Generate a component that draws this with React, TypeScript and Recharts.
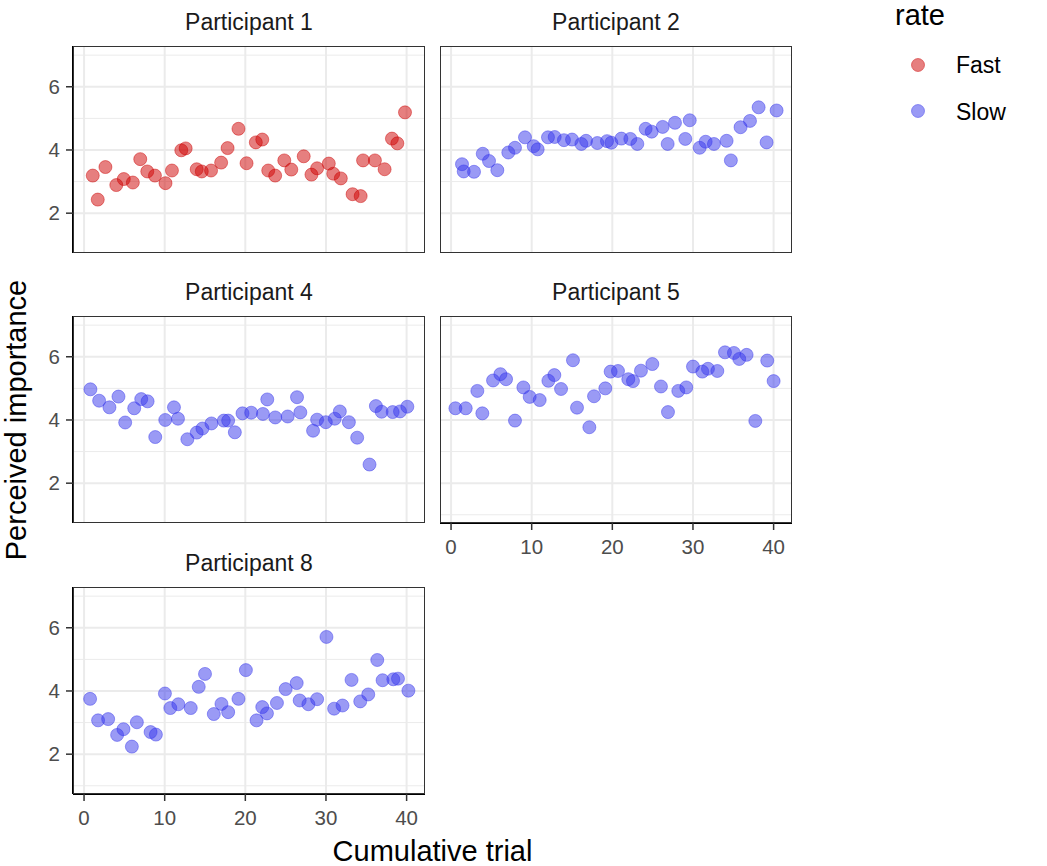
import React from 'react';
import { ScatterChart, Scatter, XAxis, YAxis, CartesianGrid } from 'recharts';

// ---- data ----
const p1Trial = [1.08,1.7,2.65,4.0,4.93,6.05,6.97,7.84,8.79,10.1,10.9,12.06,12.6,13.97,14.6,15.75,17.0,17.8,19.15,20.15,21.3,22.1,22.84,23.7,24.83,25.7,27.24,28.2,28.9,30.35,30.9,31.84,33.3,34.3,34.6,36.07,37.27,38.18,38.85,39.8];
const p1Importance = [3.19,2.43,3.46,2.89,3.08,2.97,3.71,3.32,3.19,2.95,3.35,3.99,4.05,3.39,3.32,3.35,3.6,4.06,4.67,3.58,4.24,4.33,3.35,3.19,3.67,3.38,3.8,3.22,3.42,3.57,3.25,3.1,2.6,2.54,3.67,3.67,3.39,4.36,4.21,5.19];

const p2Trial = [1.36,1.57,2.85,3.93,4.71,5.74,7.1,7.93,9.17,10.25,10.74,12.02,12.85,14.0,15.0,16.16,16.74,18.14,19.34,19.88,21.12,22.23,23.1,24.13,24.88,26.24,26.86,27.77,29.05,29.6,30.83,31.57,32.6,34.17,34.7,35.9,37.07,38.14,39.13,40.37];
const p2Importance = [3.55,3.32,3.31,3.88,3.65,3.36,3.92,4.07,4.4,4.12,4.02,4.4,4.41,4.31,4.33,4.19,4.29,4.22,4.28,4.23,4.36,4.35,4.19,4.67,4.58,4.73,4.19,4.86,4.35,4.94,4.07,4.26,4.19,4.29,3.67,4.72,4.92,5.35,4.24,5.25];

const p4Trial = [0.79,1.87,3.15,4.27,5.1,6.22,7.09,7.88,8.83,10.07,11.15,11.65,12.81,13.97,14.68,15.8,17.33,17.87,18.7,19.65,20.73,22.18,22.72,23.71,25.25,26.41,26.82,28.4,28.9,29.98,31.09,31.72,32.84,33.87,35.4,36.19,36.9,38.27,39.18,40.09];
const p4Importance = [4.97,4.61,4.4,4.74,3.92,4.37,4.66,4.59,3.46,4.0,4.4,4.04,3.39,3.6,3.73,3.89,3.98,3.98,3.61,4.21,4.23,4.19,4.65,4.08,4.11,4.72,4.24,3.66,4.01,3.93,4.04,4.27,3.93,3.44,2.59,4.44,4.26,4.25,4.27,4.42];

const p5Trial = [0.54,1.82,3.26,3.88,5.21,6.12,6.82,7.93,8.97,9.75,10.99,12.07,12.81,13.64,15.12,15.62,17.15,17.73,19.13,19.79,20.7,21.98,22.56,23.55,24.96,26.03,26.9,28.18,29.17,30.0,31.16,31.86,33.02,33.97,35.08,35.74,36.65,37.73,39.21,40.0];
const p5Importance = [4.37,4.37,4.92,4.21,5.25,5.45,5.29,3.98,5.03,4.73,4.63,5.24,5.42,4.98,5.89,4.39,3.77,4.75,5.0,5.53,5.55,5.29,5.23,5.56,5.77,5.06,4.25,4.92,5.03,5.69,5.53,5.62,5.55,6.14,6.12,5.93,6.06,3.97,5.88,5.23];

const p8Trial = [0.75,1.74,2.99,4.1,4.89,5.93,6.55,8.25,8.91,10.03,10.7,11.69,13.23,14.22,15.0,16.09,17.04,17.87,19.15,20.07,21.39,22.1,22.68,23.92,25.0,26.37,26.74,27.82,28.9,30.06,31.01,32.05,33.17,34.25,35.24,36.36,37.02,38.35,38.93,40.22];
const p8Importance = [3.75,3.07,3.11,2.61,2.79,2.24,3.01,2.7,2.62,3.92,3.46,3.58,3.46,4.13,4.54,3.27,3.59,3.33,3.75,4.66,3.07,3.49,3.29,3.62,4.06,4.25,3.7,3.58,3.74,5.71,3.44,3.54,4.35,3.67,3.89,4.98,4.34,4.37,4.39,4.01];

const panelTitles = ['Participant 1', 'Participant 2', 'Participant 4', 'Participant 5', 'Participant 8'];
const panelRates = ['Fast', 'Slow', 'Slow', 'Slow', 'Slow'];
const rateLabels = ['Fast', 'Slow'];
const xTicks = [0, 10, 20, 30, 40];
const xMinorTicks = [5, 15, 25, 35];
const yTicks = [2, 4, 6];
const yMinorTicks = [1, 3, 5, 7];

const xTitle = 'Cumulative trial';
const yTitle = 'Perceived importance';
const legendTitle = 'rate';

// ---- styling / layout ----
const FONT = '"Liberation Sans", Arial, Helvetica, sans-serif';
const rateColors: Record<string, string> = { Fast: '#cd0000', Slow: '#3535eb' };
const X_DOMAIN: [number, number] = [-1.37, 42.28];
const Y_DOMAIN: [number, number] = [0.74, 7.29];
const PW = 352;
const PH = 207;
const colLeft = [73, 440];
const rowTop = [46, 316, 587];
const Y_AXIS_W = 40;
const X_AXIS_H = 40;

const zip = (xs: number[], ys: number[]) => xs.map((x, i) => ({ x, y: ys[i] }));
const panelData = [
  zip(p1Trial, p1Importance),
  zip(p2Trial, p2Importance),
  zip(p4Trial, p4Importance),
  zip(p5Trial, p5Importance),
  zip(p8Trial, p8Importance),
];
// facet positions: [col, row]
const panelPos: [number, number][] = [[0, 0], [1, 0], [0, 1], [1, 1], [0, 2]];
const showXAxis = [false, false, false, true, true];
const showYAxis = [true, false, true, false, true];

const tickStyle = { fill: '#4d4d4d', fontSize: 20.5, fontFamily: FONT };

function Dot(props: any) {
  const { cx, cy, fill } = props;
  if (cx == null || cy == null) return null;
  return (
    <circle cx={cx} cy={cy} r={6.5} fill={fill} fillOpacity={0.5} stroke={fill} strokeOpacity={0.45} strokeWidth={1} />
  );
}

function Panel({ idx }: { idx: number }) {
  const [c, r] = panelPos[idx];
  const sx = showXAxis[idx];
  const sy = showYAxis[idx];
  const yW = sy ? Y_AXIS_W : 0;
  const xH = sx ? X_AXIS_H : 0;
  const color = rateColors[panelRates[idx]];
  return (
    <div style={{ position: 'absolute', left: colLeft[c] - yW, top: rowTop[r] }}>
      <ScatterChart width={PW + yW} height={PH + xH} margin={{ top: 0, right: 0, bottom: 0, left: 0 }}>
        <XAxis xAxisId="minor" type="number" domain={X_DOMAIN} ticks={xMinorTicks} allowDataOverflow hide />
        <YAxis yAxisId="minor" type="number" domain={Y_DOMAIN} ticks={yMinorTicks} allowDataOverflow hide />
        <CartesianGrid xAxisId="minor" yAxisId="minor" stroke="#ebebeb" strokeWidth={1} />
        <CartesianGrid stroke="#ebebeb" strokeWidth={2} />
        <XAxis
          type="number"
          dataKey="x"
          domain={X_DOMAIN}
          ticks={xTicks}
          interval={0}
          allowDataOverflow
          hide={!sx}
          height={X_AXIS_H}
          tick={tickStyle}
          tickSize={7}
          tickMargin={9}
          tickLine={{ stroke: '#333', strokeWidth: 1.5 }}
          axisLine={{ stroke: '#000', strokeWidth: 2 }}
        />
        <YAxis
          type="number"
          dataKey="y"
          domain={Y_DOMAIN}
          ticks={yTicks}
          interval={0}
          allowDataOverflow
          hide={!sy}
          width={Y_AXIS_W}
          tick={tickStyle}
          tickSize={7}
          tickMargin={6}
          tickLine={{ stroke: '#333', strokeWidth: 1.5 }}
          axisLine={{ stroke: '#000', strokeWidth: 2 }}
        />
        <Scatter data={panelData[idx]} fill={color} shape={<Dot />} isAnimationActive={false} />
      </ScatterChart>
    </div>
  );
}

export default function App() {
  return (
    <div style={{ position: 'absolute', left: 0, top: 0, width: 1047, height: 866, background: '#fff', fontFamily: FONT }}>
      {panelTitles.map((_, i) => (
        <Panel key={i} idx={i} />
      ))}
      <svg width={1047} height={866} style={{ position: 'absolute', left: 0, top: 0, pointerEvents: 'none' }}>
        {panelTitles.map((t, i) => {
          const [c, r] = panelPos[i];
          const l = colLeft[c];
          const tp = rowTop[r];
          return (
            <g key={t}>
              <rect x={l + 0.5} y={tp + 0.5} width={PW - 1} height={PH - 1} fill="none" stroke="#333" strokeWidth={1} />
              <text x={l + PW / 2} y={tp - 16} textAnchor="middle" fontSize={23} fill="#1a1a1a" fontFamily={FONT}>
                {t}
              </text>
            </g>
          );
        })}
        <text x={(colLeft[0] + colLeft[1] + PW) / 2} y={861} textAnchor="middle" fontSize={29} fill="#000" fontFamily={FONT}>
          {xTitle}
        </text>
        <text
          x={26}
          y={420}
          textAnchor="middle"
          fontSize={29}
          fill="#000"
          fontFamily={FONT}
          transform="rotate(-90 26 420)"
        >
          {yTitle}
        </text>
        <text x={895} y={25} fontSize={29} fill="#000" fontFamily={FONT}>
          {legendTitle}
        </text>
        {rateLabels.map((lab, i) => (
          <g key={lab}>
            <circle cx={918} cy={65 + i * 46} r={6.5} fill={rateColors[lab]} fillOpacity={0.5} stroke={rateColors[lab]} strokeOpacity={0.45} />
            <text x={956} y={73 + i * 47} fontSize={23} fill="#000" fontFamily={FONT}>
              {lab}
            </text>
          </g>
        ))}
      </svg>
    </div>
  );
}
